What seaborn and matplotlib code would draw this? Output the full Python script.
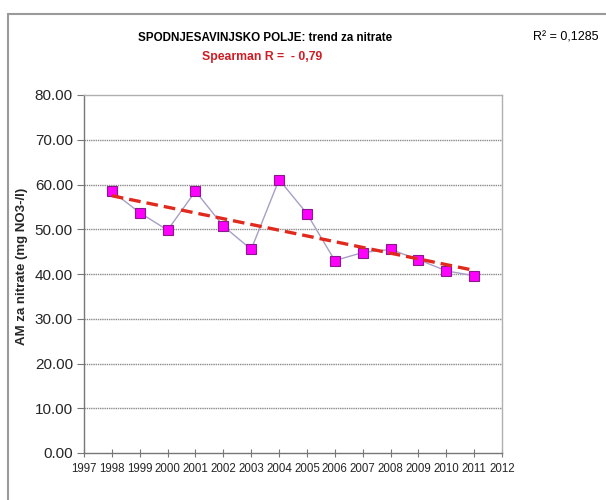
import numpy as np
import pandas as pd
import seaborn as sns
import matplotlib.pyplot as plt
from matplotlib.patches import Rectangle

# nitrate averages
years = [1998, 1999, 2000, 2001, 2002, 2003, 2004, 2005, 2006, 2007, 2008, 2009, 2010, 2011]
nitrate = [58.5, 53.7, 49.8, 58.5, 50.7, 45.5, 61.1, 53.5, 43.0, 44.8, 45.5, 43.2, 40.7, 39.6]
year_ticks = list(range(1997, 2013))
y_ticks = [0, 10, 20, 30, 40, 50, 60, 70, 80]

df = pd.DataFrame({"year": years, "nitrate": nitrate})

sns.set_style("white")
plt.rcParams["font.family"] = ["Liberation Sans", "DejaVu Sans"]

fig = plt.figure(figsize=(6.06, 5.0), dpi=100)
ax = fig.add_axes([0.1386, 0.094, 0.6898, 0.716])

# outer chart frame
fig.patches.append(Rectangle((8 / 606, -0.01), 1.0, 1 - 14 / 500 + 0.01,
                             transform=fig.transFigure, fill=False,
                             edgecolor="#9a9a9a", linewidth=1.5))

# measured values
sns.lineplot(data=df, x="year", y="nitrate", ax=ax, color="#a79fc4", linewidth=1.0,
             marker="s", markersize=7, markerfacecolor="#ff00ff",
             markeredgecolor="#8a1a8a", markeredgewidth=0.8, zorder=3)

# linear trend
sns.regplot(data=df, x="year", y="nitrate", ax=ax, scatter=False, ci=None,
            line_kws={"color": "#e02a1e", "linewidth": 2.4, "dashes": (3.5, 1.8), "zorder": 4})

ax.set_xlim(1997, 2012)
ax.set_ylim(0, 80)
ax.set_xticks(year_ticks)
ax.set_xticklabels([str(y) for y in year_ticks], fontsize=8.3)
ax.set_yticks(y_ticks)
ax.set_yticklabels([f"{v:.2f}" for v in y_ticks], fontsize=11)

for v in y_ticks[1:-1]:
    ax.axhline(v, color="#8c8c8c", linewidth=1.0, linestyle=(0, (1, 0.6)), zorder=1)

for side in ["left", "bottom"]:
    ax.spines[side].set_color("#777777")
    ax.spines[side].set_linewidth(1.0)
for side in ["top", "right"]:
    ax.spines[side].set_color("#b0b0b0")
    ax.spines[side].set_linewidth(1.0)

ax.tick_params(axis="y", direction="out", length=5, width=0.8, color="#777777", left=True, pad=3)
ax.tick_params(axis="x", direction="inout", length=6, width=0.8, color="#777777", bottom=True, pad=4)

ax.set_xlabel("")
ax.set_ylabel("AM za nitrate (mg NO3-/l)", fontsize=9.5, fontweight="bold")
ax.yaxis.set_label_coords((28 - 84) / 418, 0.52)

fig.text(265 / 606, 1 - 38 / 500, "SPODNJESAVINJSKO POLJE: trend za nitrate",
         ha="center", va="center", fontsize=8.4, fontweight="bold", color="black")
fig.text(262 / 606, 1 - 57 / 500, "Spearman R =  - 0,79",
         ha="center", va="center", fontsize=8.8, fontweight="bold", color="#d01c24")
fig.text(566 / 606, 1 - 38 / 500, "R² = 0,1285",
         ha="center", va="center", fontsize=9, color="black")

plt.savefig("out.png", dpi=100)
